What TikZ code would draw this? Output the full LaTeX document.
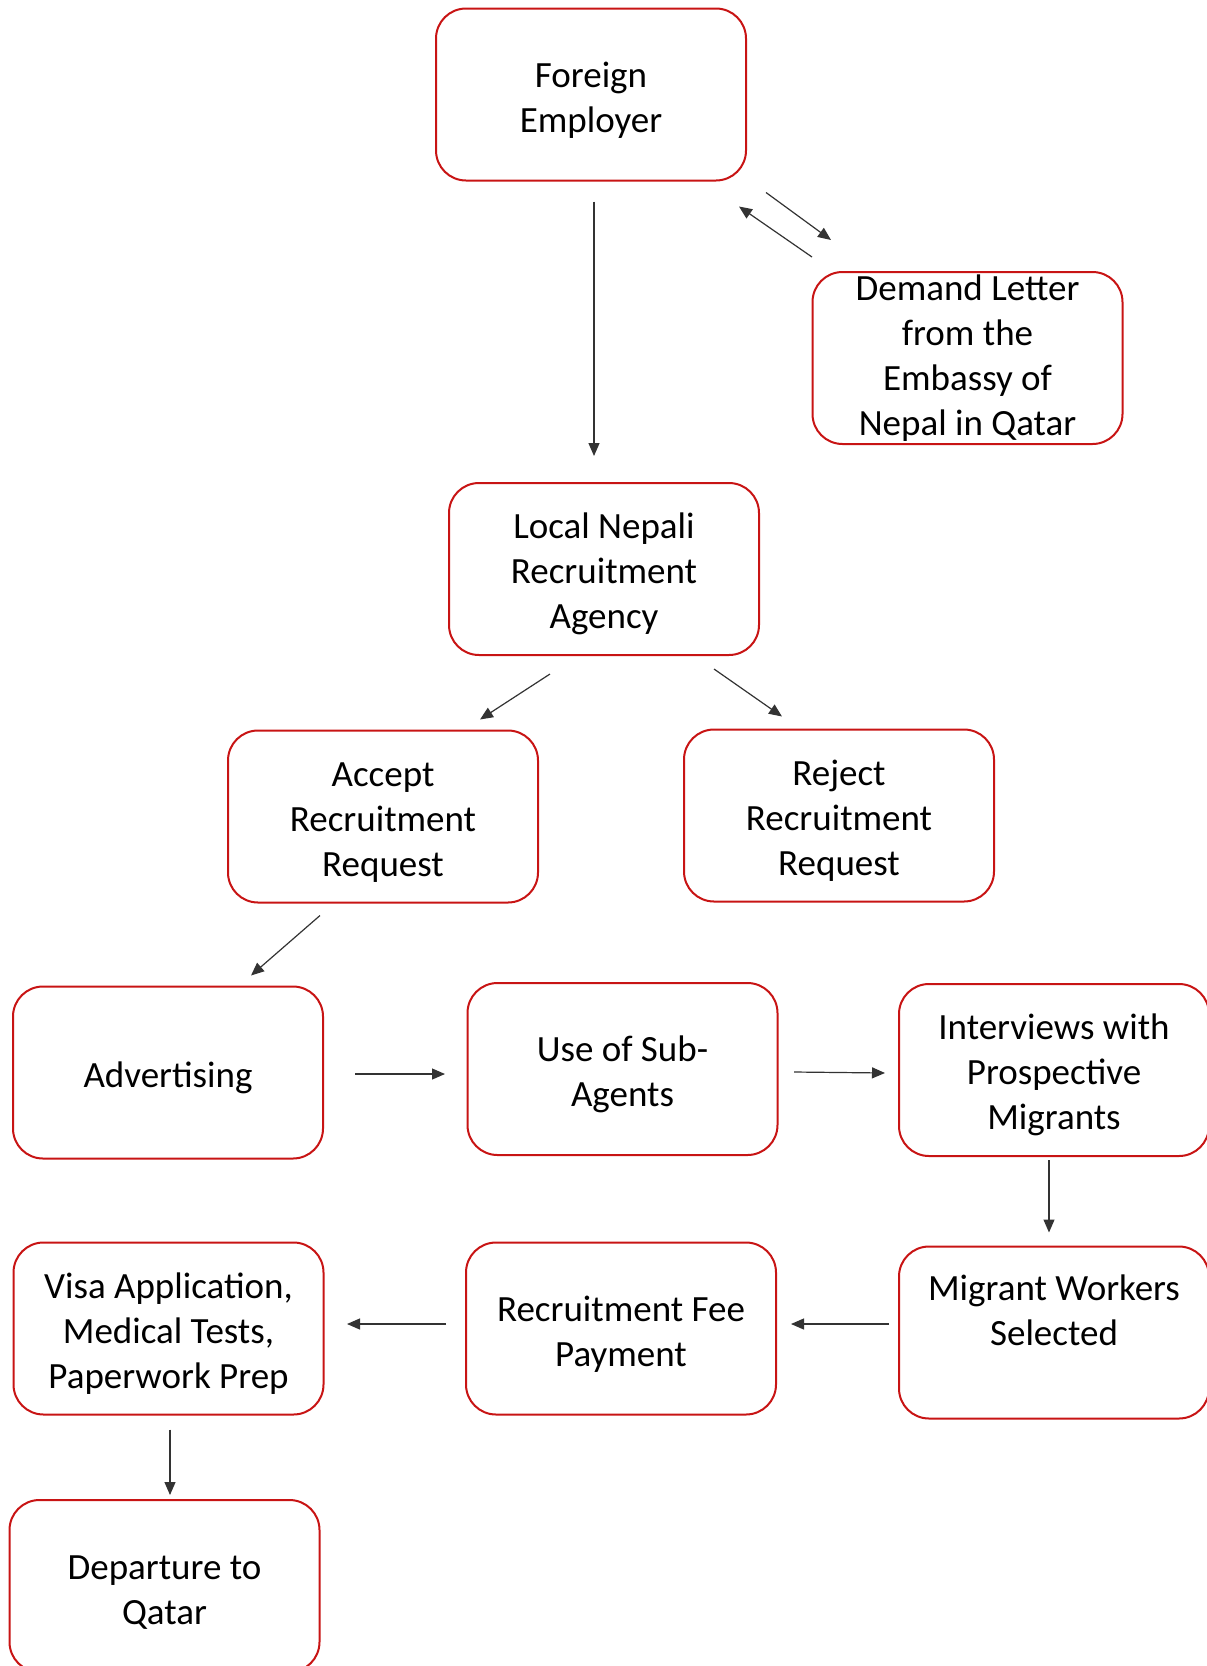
\documentclass[tikz,border=0pt]{standalone}
\usepackage{fontspec}
\setmainfont{Carlito}
\usetikzlibrary{arrows.meta}
\definecolor{boxred}{RGB}{200,20,20}
\newcommand{\tstrut}{\rule{0pt}{18pt}}
\begin{document}
\begin{tikzpicture}[x=0.5pt,y=-0.5pt,
  box/.style={draw=boxred,fill=white,line width=1pt,rounded corners=15pt,minimum width=155pt,minimum height=86pt,align=center,inner sep=2pt,font=\fontsize{18.5}{22.5}\selectfont},
  arr/.style={-{Triangle[length=6.5pt,width=5.5pt]},line width=0.6pt,draw=black!80}]
\useasboundingbox (0,0) rectangle (1206,1666);
% boxes
\node[box] (fe) at (591,94.5) {\tstrut Foreign\\Employer};
\node[box,inner ysep=0pt] (dl) at (967.5,358) {Demand Letter\\from the\\Embassy of\\Nepal in Qatar};
\node[box] (la) at (604,569) {\tstrut Local Nepali\\Recruitment\\Agency};
\node[box] (ac) at (383,816.5) {\tstrut Accept\\Recruitment\\Request};
\node[box] (rj) at (839,815.5) {\tstrut Reject\\Recruitment\\Request};
\node[box] (ad) at (168,1072.5) {\tstrut Advertising};
\node[box] (sa) at (622.5,1069) {\tstrut Use of Sub-\\Agents};
\node[box] (iv) at (1054,1070) {\tstrut Interviews with\\Prospective\\Migrants};
\node[box] (mw) at (1054,1332.5) {Migrant Workers\\Selected\\\mbox{}};
\node[box] (rf) at (621,1328.5) {\tstrut Recruitment Fee\\Payment};
\node[box] (vi) at (168.5,1328.5) {\tstrut Visa Application,\\Medical Tests,\\Paperwork Prep};
\node[box] (dp) at (164.5,1586) {\tstrut Departure to\\Qatar};
% arrows
\draw[arr] ([shift={(3,20)}]fe.south) -- ([shift={(-10,-26)}]la.north);
\draw[arr] ([shift={(19,11)}]fe.south east) -- ([shift={(19.5,-31)}]dl.north west);
\draw[arr] ([shift={(0.5,-14)}]dl.north west) -- ([shift={(-8,25)}]fe.south east);
\draw[arr] ([shift={(-54,18)}]la.south) -- ([shift={(-59,-10)}]ac.north east);
\draw[arr] ([shift={(110,13)}]la.south) -- ([shift={(-57,-12)}]rj.north);
\draw[arr] ([shift={(-63,12)}]ac.south) -- ([shift={(83,-10)}]ad.north);
\draw[arr] ([shift={(31,1.5)}]ad.east) -- ([shift={(-21.5,5)}]sa.west);
\draw[arr] ([shift={(15.5,3)}]sa.east) -- ([shift={(-13,3)}]iv.west);
\draw[arr] ([shift={(-5,3)}]iv.south) -- ([shift={(-5,-13)}]mw.north);
\draw[arr] ([shift={(-9,-8.5)}]mw.west) -- ([shift={(14,-4.5)}]rf.east);
\draw[arr] ([shift={(-19,-4.5)}]rf.west) -- ([shift={(22.5,-4.5)}]vi.east);
\draw[arr] ([shift={(1.5,14)}]vi.south) -- ([shift={(5.5,-4)}]dp.north);
\end{tikzpicture}
\end{document}
